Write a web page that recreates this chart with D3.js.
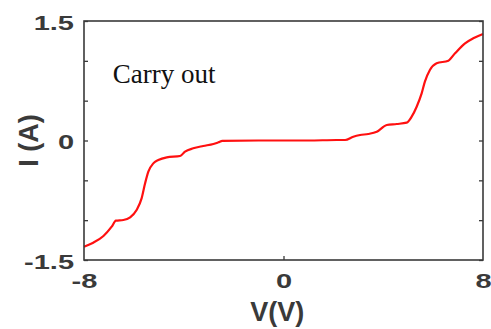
<!DOCTYPE html>
<html>
<head>
<meta charset="utf-8">
<script src="https://cdn.jsdelivr.net/npm/d3@7"></script>
<style>
  body { margin: 0; background: #fff; }
  svg { display: block; }
</style>
</head>
<body>
<svg id="chart" width="491" height="329"></svg>
<script>
// voltage (V)
const volts = [-8, -7.63, -7.22, -6.89, -6.72, -6.42, -6.15, -5.89, -5.69, -5.55, -5.42, -5.22, -5.02,
  -4.68, -4.15, -3.95, -3.62, -3.22, -2.81, -2.61, -2.45, -1, 0, 1, 2.13, 2.47, 2.8, 3.07, 3.4, 3.74,
  4.14, 4.54, 4.94, 5.14, 5.34, 5.54, 5.67, 5.87, 6.14, 6.61, 6.88, 7.28, 7.61, 8];
// current (A)
const amps = [-1.333, -1.283, -1.199, -1.082, -1.006, -0.998, -0.964, -0.872, -0.726, -0.537, -0.391, -0.287, -0.245,
  -0.211, -0.195, -0.14, -0.098, -0.069, -0.044, -0.023, -0.005, 0, 0, 0, 0.006, 0.006, 0.048, 0.069, 0.082, 0.11,
  0.195, 0.207, 0.224, 0.299, 0.424, 0.592, 0.738, 0.885, 0.969, 1.002, 1.095, 1.22, 1.283, 1.338];

const yTicks = [-1.5, -1, -0.5, 0, 0.5, 1, 1.5];
const yLabels = [-1.5, 0, 1.5];
const xTicks = [-8, 0, 8];
const annotation = "Carry out";

const svg = d3.select("#chart");
const margin = { top: 21, right: 8, bottom: 69, left: 84 };
const width = 491, height = 329;

const x = d3.scaleLinear().domain([-8, 8]).range([margin.left, width - margin.right]);
const y = d3.scaleLinear().domain([-1.5, 1.5]).range([height - margin.bottom, margin.top]);

const ink = "#3a3a3a";
const stretch = 1.45;

function widen(sel) {
  sel.each(function () {
    const w = this.getComputedTextLength();
    d3.select(this).attr("textLength", w * stretch).attr("lengthAdjust", "spacingAndGlyphs");
  });
}

// curve
const line = d3.line().x((d, i) => x(volts[i])).y(d => y(d)).curve(d3.curveMonotoneX);
svg.append("path")
  .attr("d", line(amps))
  .attr("fill", "none")
  .attr("stroke", "#ff1010")
  .attr("stroke-width", 2.2)
  .attr("stroke-linejoin", "round");

// left axis, ticks inside
const left = svg.append("g")
  .attr("transform", `translate(${margin.left},0)`)
  .call(d3.axisLeft(y).tickValues(yTicks).tickSizeInner(-4).tickSizeOuter(0).tickPadding(10)
    .tickFormat(d => yLabels.includes(d) ? d3.format("")(d).replace("−", "-") : ""));
left.select(".domain").remove();
left.selectAll("line").attr("stroke", ink).attr("stroke-width", 1.3);
left.selectAll("text")
  .attr("fill", ink)
  .attr("font-family", "Liberation Sans, Arial, sans-serif")
  .attr("font-weight", "bold")
  .attr("font-size", 20)
  .attr("dy", "0.42em")
  .call(widen);

// right axis, ticks inside
const right = svg.append("g")
  .attr("transform", `translate(${width - margin.right},0)`)
  .call(d3.axisRight(y).tickValues(yTicks).tickSizeInner(-4).tickSizeOuter(0).tickFormat(""));
right.select(".domain").remove();
right.selectAll("line").attr("stroke", ink).attr("stroke-width", 1.3);

// bottom axis
const bottom = svg.append("g")
  .attr("transform", `translate(0,${height - margin.bottom})`)
  .call(d3.axisBottom(x).tickValues(xTicks).tickSizeInner(-4).tickSizeOuter(0).tickPadding(14)
    .tickFormat(d => d3.format("")(d).replace("−", "-")));
bottom.select(".domain").remove();
bottom.selectAll("line").attr("stroke", ink).attr("stroke-width", 1.3)
  .attr("opacity", d => d === 0 ? 1 : 0);
bottom.selectAll("text")
  .attr("fill", ink)
  .attr("font-family", "Liberation Sans, Arial, sans-serif")
  .attr("font-weight", "bold")
  .attr("font-size", 20)
  .call(widen);

// frame
svg.append("rect")
  .attr("x", margin.left)
  .attr("y", margin.top)
  .attr("width", width - margin.left - margin.right)
  .attr("height", height - margin.top - margin.bottom)
  .attr("fill", "none")
  .attr("stroke", ink)
  .attr("stroke-width", 1.6);

// axis titles
svg.append("text")
  .attr("x", x(-0.25))
  .attr("y", 321)
  .attr("text-anchor", "middle")
  .attr("fill", ink)
  .attr("font-family", "Liberation Sans, Arial, sans-serif")
  .attr("font-weight", "bold")
  .attr("font-size", 27)
  .text("V(V)");

svg.append("text")
  .attr("transform", `translate(38,${y(0)}) rotate(-90)`)
  .attr("text-anchor", "middle")
  .attr("fill", ink)
  .attr("font-family", "Liberation Sans, Arial, sans-serif")
  .attr("font-weight", "bold")
  .attr("font-size", 27)
  .text("I (A)");

// annotation
svg.append("text")
  .attr("x", x(-6.85))
  .attr("y", y(0.72))
  .attr("fill", "#111")
  .attr("font-family", "Liberation Serif, Times New Roman, serif")
  .attr("font-size", 27)
  .text(annotation);
</script>
</body>
</html>
